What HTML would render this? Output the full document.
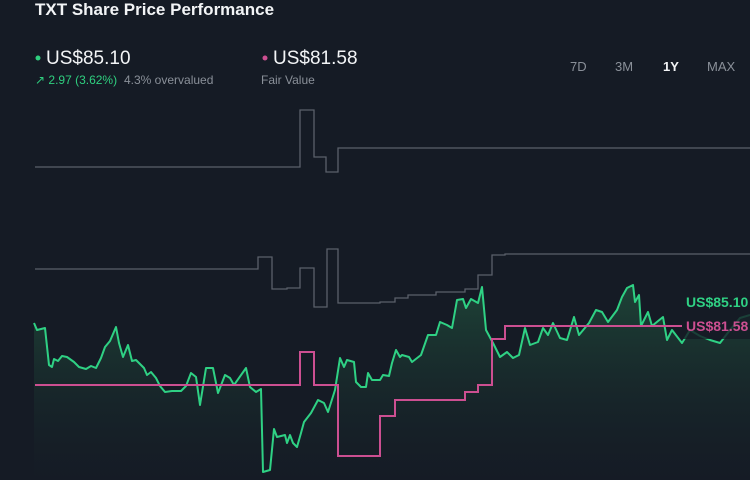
<!DOCTYPE html>
<html><head><meta charset="utf-8"><style>
body{margin:0;background:#151b25;width:750px;height:480px;overflow:hidden;font-family:"Liberation Sans",sans-serif;}
svg{position:absolute;left:0;top:0}
</style></head><body>
<svg width="750" height="480" viewBox="0 0 750 480">
<defs>
<linearGradient id="g" x1="0" y1="0" x2="0" y2="1">
<stop offset="0" stop-color="#1f4a3a" stop-opacity="0.85"/>
<stop offset="1" stop-color="#151b25" stop-opacity="0.3"/>
</linearGradient>
</defs>
<rect width="750" height="480" fill="#151b25"/>
<text x="35" y="15" fill="#f2f4f6" font-size="17" font-weight="bold">TXT Share Price Performance</text>
<circle cx="38" cy="58" r="2.5" fill="#2fcf7f"/>
<text x="46" y="64" fill="#f2f4f6" font-size="19">US$85.10</text>
<text x="35" y="84" fill="#2fcf7f" font-size="12">↗ 2.97 (3.62%)</text>
<text x="124" y="84" fill="#8a9099" font-size="12">4.3% overvalued</text>
<circle cx="265" cy="58" r="2.5" fill="#cc4f91"/>
<text x="273" y="64" fill="#f2f4f6" font-size="19">US$81.58</text>
<text x="261" y="84" fill="#8a9099" font-size="12">Fair Value</text>
<g font-size="13" fill="#8a9099">
<text x="570" y="71">7D</text><text x="615" y="71">3M</text>
<text x="663" y="71" fill="#f2f4f6" font-weight="bold">1Y</text><text x="707" y="71">MAX</text>
</g>
<polyline fill="none" stroke="#5a606a" stroke-width="1.3" points="35,167 300,167 300,110 314,110 314,157 326,157 326,172 338,172 338,148 750,148"/>
<polyline fill="none" stroke="#5a606a" stroke-width="1.3" points="35,269 258,269 258,257 272,257 272,289 287,289 287,288 300,288 300,268 314,268 314,307 327,307 327,249 338,249 338,303 380,303 380,302 395,302 395,298 408,298 408,295 436,295 436,292 465,292 465,289 478,289 478,275 492,275 492,255 505,255 505,254 750,254"/>
<path fill="url(#g)" d="M34,323 37,330 45,328 49,365 52,367 54,359 58,361 62,356 67,357 74,362 79,367 86,369 91,366 96,368 101,358 105,347 110,341 116,327 119,343 123,357 128,345 132,361 136,360 144,368 147,375 151,372 156,378 160,386 165,392 172,391 181,391 186,386 191,373 196,377 200,405 206,368 213,368 218,393 225,375 230,378 234,385 246,368 250,387 256,392 261,389 263,472 270,470 274,429 277,437 285,435 287,443 290,435 293,443 297,447 301,433 304,422 311,413 318,400 324,403 328,412 335,390 340,358 344,367 347,360 354,362 356,382 361,387 366,387 368,373 372,380 380,380 383,375 389,376 392,363 396,350 400,357 402,355 409,357 412,362 421,355 428,335 436,335 440,322 447,325 452,328 457,300 463,299 466,308 471,299 478,303 482,287 486,330 493,343 500,357 507,352 513,358 519,355 525,328 530,345 538,342 543,328 548,335 553,323 560,338 567,340 574,317 579,335 589,323 596,310 602,312 608,322 617,310 622,297 627,288 633,285 635,302 639,295 641,326 648,312 652,326 663,317 667,340 672,330 682,343 690,330 700,336 710,340 720,343 730,330 740,318 750,315 750,480 34,480Z"/>
<polyline fill="none" stroke="#2fd184" stroke-width="2" stroke-linejoin="round" points="34,323 37,330 45,328 49,365 52,367 54,359 58,361 62,356 67,357 74,362 79,367 86,369 91,366 96,368 101,358 105,347 110,341 116,327 119,343 123,357 128,345 132,361 136,360 144,368 147,375 151,372 156,378 160,386 165,392 172,391 181,391 186,386 191,373 196,377 200,405 206,368 213,368 218,393 225,375 230,378 234,385 246,368 250,387 256,392 261,389 263,472 270,470 274,429 277,437 285,435 287,443 290,435 293,443 297,447 301,433 304,422 311,413 318,400 324,403 328,412 335,390 340,358 344,367 347,360 354,362 356,382 361,387 366,387 368,373 372,380 380,380 383,375 389,376 392,363 396,350 400,357 402,355 409,357 412,362 421,355 428,335 436,335 440,322 447,325 452,328 457,300 463,299 466,308 471,299 478,303 482,287 486,330 493,343 500,357 507,352 513,358 519,355 525,328 530,345 538,342 543,328 548,335 553,323 560,338 567,340 574,317 579,335 589,323 596,310 602,312 608,322 617,310 622,297 627,288 633,285 635,302 639,295 641,326 648,312 652,326 663,317 667,340 672,330 682,343 690,330 700,336 710,340 720,343 730,330 740,318 750,315"/>
<polyline fill="none" stroke="#cc4f91" stroke-width="2" points="35,385 300,385 300,352 314,352 314,385 338,385 338,456 380,456 380,416 395,416 395,400 465,400 465,392 478,392 478,385 492,385 492,339 505,339 505,326 682,326"/>
<rect x="682" y="289" width="68" height="50" fill="#151b25" opacity="0.8"/>
<text x="686" y="307" fill="#2fd184" font-size="14" font-weight="bold">US$85.10</text>
<text x="686" y="331" fill="#cc4f91" font-size="14" font-weight="bold">US$81.58</text>
</svg>
</body></html>
